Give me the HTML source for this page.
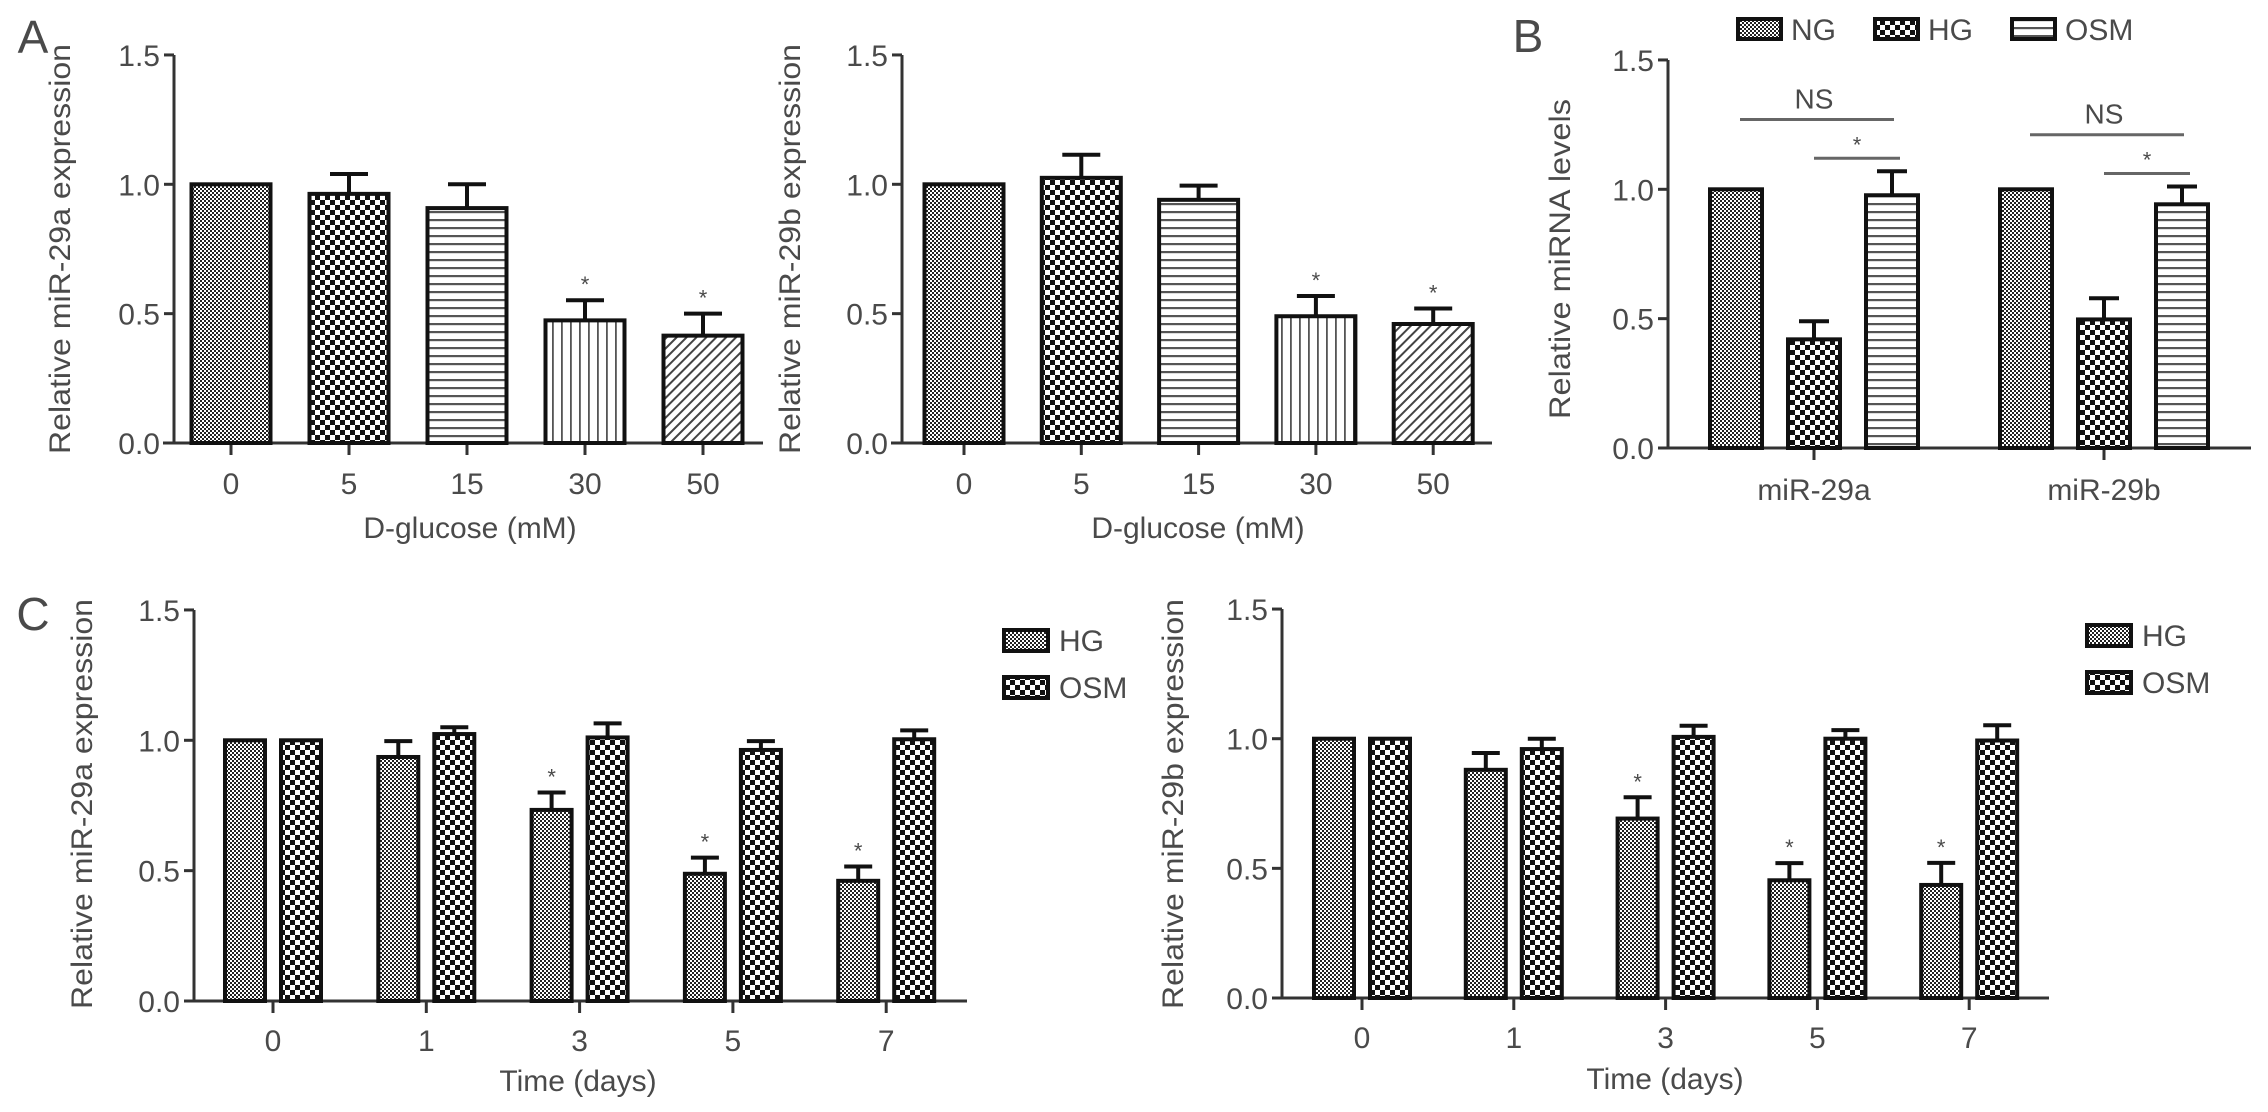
<!DOCTYPE html>
<html><head><meta charset="utf-8">
<style>
html,body{margin:0;padding:0;background:#fff;}
svg{display:block;}
text{font-family:"Liberation Sans",Arial,sans-serif;fill:#4a4a4a;}
</style></head>
<body>
<svg id="fig" width="2268" height="1112" viewBox="0 0 2268 1112" xmlns="http://www.w3.org/2000/svg">
<defs>
  <pattern id="pFine" width="4" height="4" patternUnits="userSpaceOnUse">
    <rect width="4" height="4" fill="#fff"/><rect width="2" height="2" fill="#222"/><rect x="2" y="2" width="2" height="2" fill="#222"/>
  </pattern>
  <pattern id="pCoarse" width="10" height="10" patternUnits="userSpaceOnUse">
    <rect width="10" height="10" fill="#fff"/><rect width="5" height="5" fill="#111"/><rect x="5" y="5" width="5" height="5" fill="#111"/>
  </pattern>
  <pattern id="pH" width="8" height="8" patternUnits="userSpaceOnUse">
    <rect width="8" height="8" fill="#fff"/><rect y="3" width="8" height="2.2" fill="#555"/>
  </pattern>
  <pattern id="pV" width="9" height="9" patternUnits="userSpaceOnUse">
    <rect width="9" height="9" fill="#fff"/><rect x="3" width="1.8" height="9" fill="#555"/>
  </pattern>
  <pattern id="pD" width="7" height="7" patternUnits="userSpaceOnUse" patternTransform="rotate(45)">
    <rect width="7" height="7" fill="#fff"/><rect x="2" width="2" height="7" fill="#444"/>
  </pattern>
</defs>
<text x="33" y="53" font-size="46" text-anchor="middle">A</text>
<text x="1528" y="52" font-size="46" text-anchor="middle">B</text>
<text x="33" y="630" font-size="46" text-anchor="middle">C</text>
</svg>
<script>
// ---- Panel A1 data ----
const a1Categories = ["0", "5", "15", "30", "50"];
const a1Values = [1.0, 0.963, 0.908, 0.474, 0.415];
const a1Errors = [1.0, 1.04, 1.0, 0.552, 0.5];
const a1Stars = [false, false, false, true, true];
// ---- Panel A2 data ----
const a2Categories = ["0", "5", "15", "30", "50"];
const a2Values = [1.0, 1.025, 0.94, 0.49, 0.46];
const a2Errors = [1.0, 1.114, 0.995, 0.568, 0.52];
const a2Stars = [false, false, false, true, true];
// ---- Panel B data ----
const bCategories = ["miR-29a", "miR-29b"];
const bSeriesNames = ["NG", "HG", "OSM"];
const bNG = [1.0, 1.0];
const bHG = [0.42, 0.497];
const bOSM = [0.977, 0.942];
const bNGErr = [1.0, 1.0];
const bHGErr = [0.49, 0.579];
const bOSMErr = [1.07, 1.011];
// ---- Panel C1 data ----
const cCategories = ["0", "1", "3", "5", "7"];
const c1HG = [1.0, 0.936, 0.733, 0.488, 0.461];
const c1HGErr = [1.0, 0.997, 0.80, 0.55, 0.516];
const c1OSM = [1.0, 1.024, 1.011, 0.963, 1.004];
const c1OSMErr = [1.0, 1.05, 1.065, 0.997, 1.038];
const c1Stars = [false, false, true, true, true];
// ---- Panel C2 data ----
const c2HG = [1.0, 0.88, 0.692, 0.454, 0.436];
const c2HGErr = [1.0, 0.945, 0.774, 0.52, 0.521];
const c2OSM = [1.0, 0.96, 1.007, 1.0, 0.993];
const c2OSMErr = [1.0, 1.0, 1.05, 1.033, 1.052];
const c2Stars = [false, false, true, true, true];
const yTicks = [0.0, 0.5, 1.0, 1.5];
const yTickLabels = ["0.0", "0.5", "1.0", "1.5"];

const svg = document.getElementById('fig');
const NS = 'http://www.w3.org/2000/svg';
function mk(tag, attrs, parent) {
  const e = document.createElementNS(NS, tag);
  for (const k in attrs) e.setAttribute(k, attrs[k]);
  (parent || svg).appendChild(e);
  return e;
}
function txt(x, y, s, size, anchor, parent) {
  const t = mk('text', {x: x, y: y, 'font-size': size, 'text-anchor': anchor || 'middle'}, parent);
  t.textContent = s;
  return t;
}

function axes(g, cfg, cats, centers) {
  const yS = v => cfg.zero - v * cfg.ppu;
  const ax = mk('line', {x1: cfg.axisX, y1: yS(1.5), x2: cfg.axisX, y2: cfg.zero, stroke: '#333', 'stroke-width': 3}, g);
  
  
  const bx = mk('line', {x1: cfg.xStart, y1: cfg.zero, x2: cfg.xEnd, y2: cfg.zero, stroke: '#333', 'stroke-width': 3}, g);
  
  
  yTicks.forEach((v, i) => {
    mk('line', {x1: cfg.axisX - 10, y1: yS(v), x2: cfg.axisX, y2: yS(v), stroke: '#333', 'stroke-width': 3}, g);
    const t = txt(cfg.axisX - 14, yS(v) + 11, yTickLabels[i], 30, 'end', g);
    
    
  });
  cats.forEach((c, i) => {
    mk('line', {x1: centers[i], y1: cfg.zero, x2: centers[i], y2: cfg.zero + 12, stroke: '#333', 'stroke-width': 3}, g);
    const t = txt(centers[i], cfg.tickY, c, 30, 'middle', g);
    
    
  });
  if (cfg.xTitle) {
    const t = txt(cfg.xTitleX, cfg.xTitleY, cfg.xTitle, 30, 'middle', g);
    
    
  }
  const yt = txt(0, 0, cfg.yTitle, 30, 'middle', g);
  yt.setAttribute('transform', 'translate(' + cfg.yTitleX + ',' + cfg.yTitleY + ') rotate(-90)');
  yt.setAttribute('textLength', cfg.yTitleLen);
  yt.setAttribute('lengthAdjust', 'spacingAndGlyphs');
  
  
  return yS;
}

function bar(g, yS, cx, w, v, err, fill, cap, star, name) {
  if (err > v + 0.001) {
    const e1 = mk('line', {x1: cx, y1: yS(v), x2: cx, y2: yS(err), stroke: '#111', 'stroke-width': 4}, g);
    
    
    mk('line', {x1: cx - cap / 2, y1: yS(err), x2: cx + cap / 2, y2: yS(err), stroke: '#111', 'stroke-width': 4}, g);
  }
  const r = mk('rect', {x: cx - w / 2, y: yS(v), width: w, height: yS(0) - yS(v), fill: 'url(#' + fill + ')', stroke: '#111', 'stroke-width': 4}, g);
  
  
  if (star) {
    const s = txt(cx, yS(err) - 8, '*', 22, 'middle', g);
    
    
  }
}

// Panel A
const aPatterns = ['pFine', 'pCoarse', 'pH', 'pV', 'pD'];
function panelA(cfg, cats, vals, errs, stars, nm) {
  const g = mk('g', {});
  
  
  const centers = cats.map((c, i) => cfg.c0 + cfg.step * i);
  const yS = axes(g, cfg, cats, centers);
  vals.forEach((v, i) => bar(g, yS, centers[i], 79, v, errs[i], aPatterns[i], 38, stars[i], 'bar-' + cats[i] + 'mm'));
}
panelA({axisX: 174, zero: 443, ppu: 258.7, xStart: 163, xEnd: 763, c0: 231, step: 118, tickY: 494,
  xTitle: 'D-glucose (mM)', xTitleX: 470, xTitleY: 538, yTitle: 'Relative miR-29a expression', yTitleX: 70, yTitleY: 249, yTitleLen: 410},
  a1Categories, a1Values, a1Errors, a1Stars, 'chart-a-mir29a');
panelA({axisX: 902, zero: 443, ppu: 258.7, xStart: 891, xEnd: 1492, c0: 964, step: 117.3, tickY: 494,
  xTitle: 'D-glucose (mM)', xTitleX: 1198, xTitleY: 538, yTitle: 'Relative miR-29b expression', yTitleX: 800, yTitleY: 249, yTitleLen: 410},
  a2Categories, a2Values, a2Errors, a2Stars, 'chart-a-mir29b');

// Panel B
(function () {
  const cfg = {axisX: 1668, zero: 448, ppu: 258.7, xStart: 1658, xEnd: 2251, tickY: 500,
    yTitle: 'Relative miRNA levels', yTitleX: 1570, yTitleY: 259, yTitleLen: 320};
  const g = mk('g', {});
  
  
  const centers = [1814, 2104];
  const yS = axes(g, cfg, bCategories, centers);
  const series = [bNG, bHG, bOSM], errs = [bNGErr, bHGErr, bOSMErr], pats = ['pFine', 'pCoarse', 'pH'];
  bCategories.forEach((c, i) => {
    series.forEach((s, k) => bar(g, yS, centers[i] + (k - 1) * 78, 52, s[i], errs[k][i], pats[k], 30, false, 'bar-' + c + '-' + bSeriesNames[k].toLowerCase()));
    // NS line NG-OSM and star line HG-OSM
    const nsY = yS(Math.max(bOSMErr[i], bNGErr[i]) + 0.2 + i * 0.0);
    const l1 = mk('line', {x1: centers[i] - 74, y1: nsY, x2: centers[i] + 80, y2: nsY, stroke: '#666', 'stroke-width': 3}, g);
    
    
    const t1 = txt(centers[i], nsY - 11, 'NS', 28, 'middle', g);
    
    
    const sY = yS(bOSMErr[i] + 0.05);
    const l2 = mk('line', {x1: centers[i], y1: sY, x2: centers[i] + 86, y2: sY, stroke: '#666', 'stroke-width': 3}, g);
    
    
    const t2 = txt(centers[i] + 43, sY - 6, '*', 22, 'middle', g);
    
    
  });
  const lx = [1738, 1875, 2012];
  bSeriesNames.forEach((n, k) => {
    const le = mk('g', {}, g);
    
    
    mk('rect', {x: lx[k], y: 19, width: 43, height: 20, fill: 'url(#' + pats[k] + ')', stroke: '#111', 'stroke-width': 4}, le);
    txt(lx[k] + 53, 40, n, 30, 'start', le);
  });
})();

// Panel C
function panelC(cfg, hg, hgE, osm, osmE, stars, nm) {
  const g = mk('g', {});
  
  
  const centers = cCategories.map((c, i) => cfg.c0 + cfg.step * i);
  const yS = axes(g, cfg, cCategories, centers);
  cCategories.forEach((c, i) => {
    bar(g, yS, centers[i] - 28, 40, hg[i], hgE[i], 'pFine', 28, stars[i], 'bar-day' + c + '-hg');
    bar(g, yS, centers[i] + 28, 40, osm[i], osmE[i], 'pCoarse', 28, false, 'bar-day' + c + '-osm');
  });
  [['HG', 'pFine', cfg.legY], ['OSM', 'pCoarse', cfg.legY + 47]].forEach(d => {
    const le = mk('g', {}, g);
    
    
    mk('rect', {x: cfg.legX, y: d[2] - 10, width: 44, height: 21, fill: 'url(#' + d[1] + ')', stroke: '#111', 'stroke-width': 4}, le);
    txt(cfg.legX + 55, d[2] + 11, d[0], 30, 'start', le);
  });
}
panelC({axisX: 194, zero: 1001, ppu: 260.7, xStart: 189, xEnd: 967, c0: 273, step: 153.3, tickY: 1051,
  xTitle: 'Time (days)', xTitleX: 578, xTitleY: 1091, yTitle: 'Relative miR-29a expression', yTitleX: 92, yTitleY: 804, yTitleLen: 410,
  legX: 1004, legY: 640}, c1HG, c1HGErr, c1OSM, c1OSMErr, c1Stars, 'chart-c-mir29a');
panelC({axisX: 1282, zero: 998, ppu: 259.3, xStart: 1277, xEnd: 2049, c0: 1362, step: 151.8, tickY: 1048,
  xTitle: 'Time (days)', xTitleX: 1665, xTitleY: 1089, yTitle: 'Relative miR-29b expression', yTitleX: 1183, yTitleY: 804, yTitleLen: 410,
  legX: 2087, legY: 635}, c2HG, c2HGErr, c2OSM, c2OSMErr, c2Stars, 'chart-c-mir29b');
</script>
</body></html>
